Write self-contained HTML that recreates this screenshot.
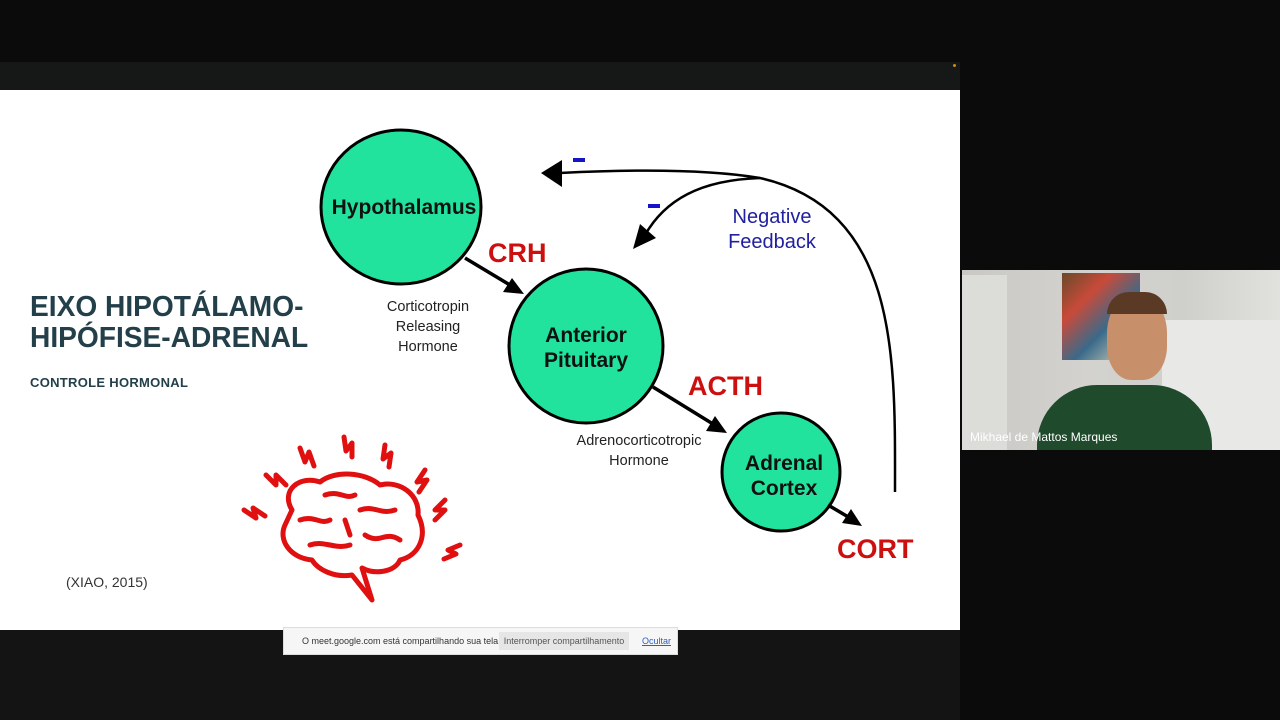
<!DOCTYPE html>
<html><head><meta charset="utf-8"><style>
body{margin:0;width:1280px;height:720px;background:#0b0b0b;overflow:hidden;position:relative;font-family:"Liberation Sans",sans-serif}
.band{position:absolute;left:0;top:62px;width:960px;height:28px;background:#161818}
.slide{position:absolute;left:0;top:90px;width:960px;height:540px;background:#fff}
.bottom{position:absolute;left:0;top:630px;width:960px;height:90px;background:#141414}
.video{position:absolute;left:962px;top:270px;width:318px;height:180px;background:linear-gradient(90deg,#c9c8c4 0%,#d3d2ce 40%,#cfcfcb 70%,#e1e1de 100%)}
</style></head><body>
<div class="band"></div>
<div class="slide"></div>
<div class="bottom"></div>
<div style="position:absolute;left:953px;top:64px;width:3px;height:3px;background:#c88a2a;border-radius:50%"></div>
<div style="position:absolute;left:30px;top:292px;font:bold 29px 'Liberation Sans',sans-serif;color:#23404a;line-height:31px;transform:scaleX(0.97);transform-origin:left">EIXO HIPOTÁLAMO-<br>HIPÓFISE-ADRENAL</div>
<div style="position:absolute;left:30px;top:375px;font:bold 13px 'Liberation Sans',sans-serif;color:#23404a;letter-spacing:0.3px">CONTROLE HORMONAL</div>
<div style="position:absolute;left:66px;top:574px;font:14px 'Liberation Sans',sans-serif;color:#333">(XIAO, 2015)</div>
<svg width="960" height="630" style="position:absolute;left:0;top:0">
<g stroke="#000" stroke-width="3">
<ellipse cx="401" cy="207" rx="80" ry="77" fill="#22e39e"/>
<ellipse cx="586" cy="346" rx="77" ry="77" fill="#22e39e"/>
<ellipse cx="781" cy="472" rx="59" ry="59" fill="#22e39e"/>
</g>
<g stroke="#000" stroke-width="3.5" fill="none">
<line x1="465" y1="258" x2="510" y2="285"/>
<line x1="653" y1="387" x2="713" y2="424"/>
<line x1="828" y1="505" x2="850" y2="518"/>
</g>
<polygon points="524,294 503,292 512,278" fill="#000"/>
<polygon points="727,433 706,431 715,416" fill="#000"/>
<polygon points="862,526 842,523 851,509" fill="#000"/>
<g stroke="#000" stroke-width="2.5" fill="none">
<path d="M895,492 C895,360 900,210 760,178 C700,168 620,170 560,173"/>
<path d="M760,178 C700,180 665,200 645,235"/>
</g>
<polygon points="541,173 562,160 562,187" fill="#000"/>
<polygon points="633,249 640,224 656,238" fill="#000"/>
<rect x="573" y="158" width="12" height="4" fill="#1414c8"/>
<rect x="648" y="204" width="12" height="4" fill="#1414c8"/>
<g font-family="Liberation Sans,sans-serif" font-weight="bold" fill="#111" font-size="21" text-anchor="middle">
<text x="404" y="214">Hypothalamus</text>
<text x="586" y="342">Anterior</text><text x="586" y="367">Pituitary</text>
<text x="784" y="470">Adrenal</text><text x="784" y="495">Cortex</text>
</g>
<g font-family="Liberation Sans,sans-serif" fill="#cc1010" font-size="27" font-weight="bold">
<text x="488" y="262">CRH</text><text x="688" y="395">ACTH</text><text x="837" y="558">CORT</text>
</g>
<g font-family="Liberation Sans,sans-serif" fill="#222" font-size="14.5" text-anchor="middle">
<text x="428" y="311">Corticotropin</text><text x="428" y="331">Releasing</text><text x="428" y="351">Hormone</text>
<text x="639" y="445">Adrenocorticotropic</text><text x="639" y="465">Hormone</text>
</g>
<g font-family="Liberation Sans,sans-serif" fill="#2020a0" font-size="20" text-anchor="middle">
<text x="772" y="223">Negative</text><text x="772" y="248">Feedback</text>
</g>
<g stroke="#e01010" stroke-width="5" fill="none" stroke-linecap="round" stroke-linejoin="round">
<path d="M292,510 C280,490 300,475 320,482 C335,470 365,472 380,485 C400,480 420,495 418,515 C428,535 420,555 400,560 C395,572 375,575 362,568 L372,600 L352,575 C335,578 318,570 312,560 C290,558 278,540 285,525 Z"/>
<path d="M300,520 C315,515 320,525 330,520 M325,495 C340,490 345,500 355,495 M360,510 C375,505 380,515 395,510 M310,545 C325,540 335,550 350,545 M365,535 C380,545 385,530 400,540 M345,520 L350,535"/>
<path d="M244,510 l12,8 l-3,-10 l12,8 M266,475 l10,10 l0,-10 l10,10 M300,448 l5,14 l4,-10 l5,14 M344,437 l2,14 l6,-8 l0,14 M385,445 l-2,14 l8,-6 l-2,14 M425,470 l-8,12 l10,-2 l-8,12 M445,500 l-10,10 l10,0 l-10,10 M460,545 l-12,5 l8,4 l-12,5"/>
</g>
</svg>
<div style="position:absolute;left:283px;top:627px;width:393px;height:26px;background:#f6f6f6;border:1px solid #ddd;font-size:9px;color:#333">
<span style="position:absolute;left:18px;top:8px">O meet.google.com está compartilhando sua tela.</span>
<span style="position:absolute;left:215px;top:4px;width:130px;height:18px;background:#e6e6e6;line-height:18px;text-align:center;color:#555">Interromper compartilhamento</span>
<span style="position:absolute;left:358px;top:8px;color:#2a5fc4;text-decoration:underline">Ocultar</span></div>
<div class="video">
<div style="position:absolute;left:0;top:5px;width:45px;height:175px;background:#dcdcd9"></div>
<div style="position:absolute;left:100px;top:3px;width:78px;height:87px;background:linear-gradient(135deg,#6a4a2a,#c84a3a 30%,#3a6a8a 60%,#e8e0c0)"></div>
<div style="position:absolute;left:200px;top:50px;width:118px;height:130px;background:#e8e8e6"></div>
<div style="position:absolute;left:145px;top:25px;width:60px;height:85px;background:#c8906a;border-radius:45% 45% 40% 40%"></div>
<div style="position:absolute;left:145px;top:22px;width:60px;height:22px;background:#5a3a25;border-radius:30px 30px 0 0"></div>
<div style="position:absolute;left:75px;top:115px;width:175px;height:65px;background:#1f4a2c;border-radius:60px 60px 0 0"></div>
<div style="position:absolute;left:8px;top:160px;color:#fff;font-size:12px">Mikhael de Mattos Marques</div>
</div>
</body></html>
